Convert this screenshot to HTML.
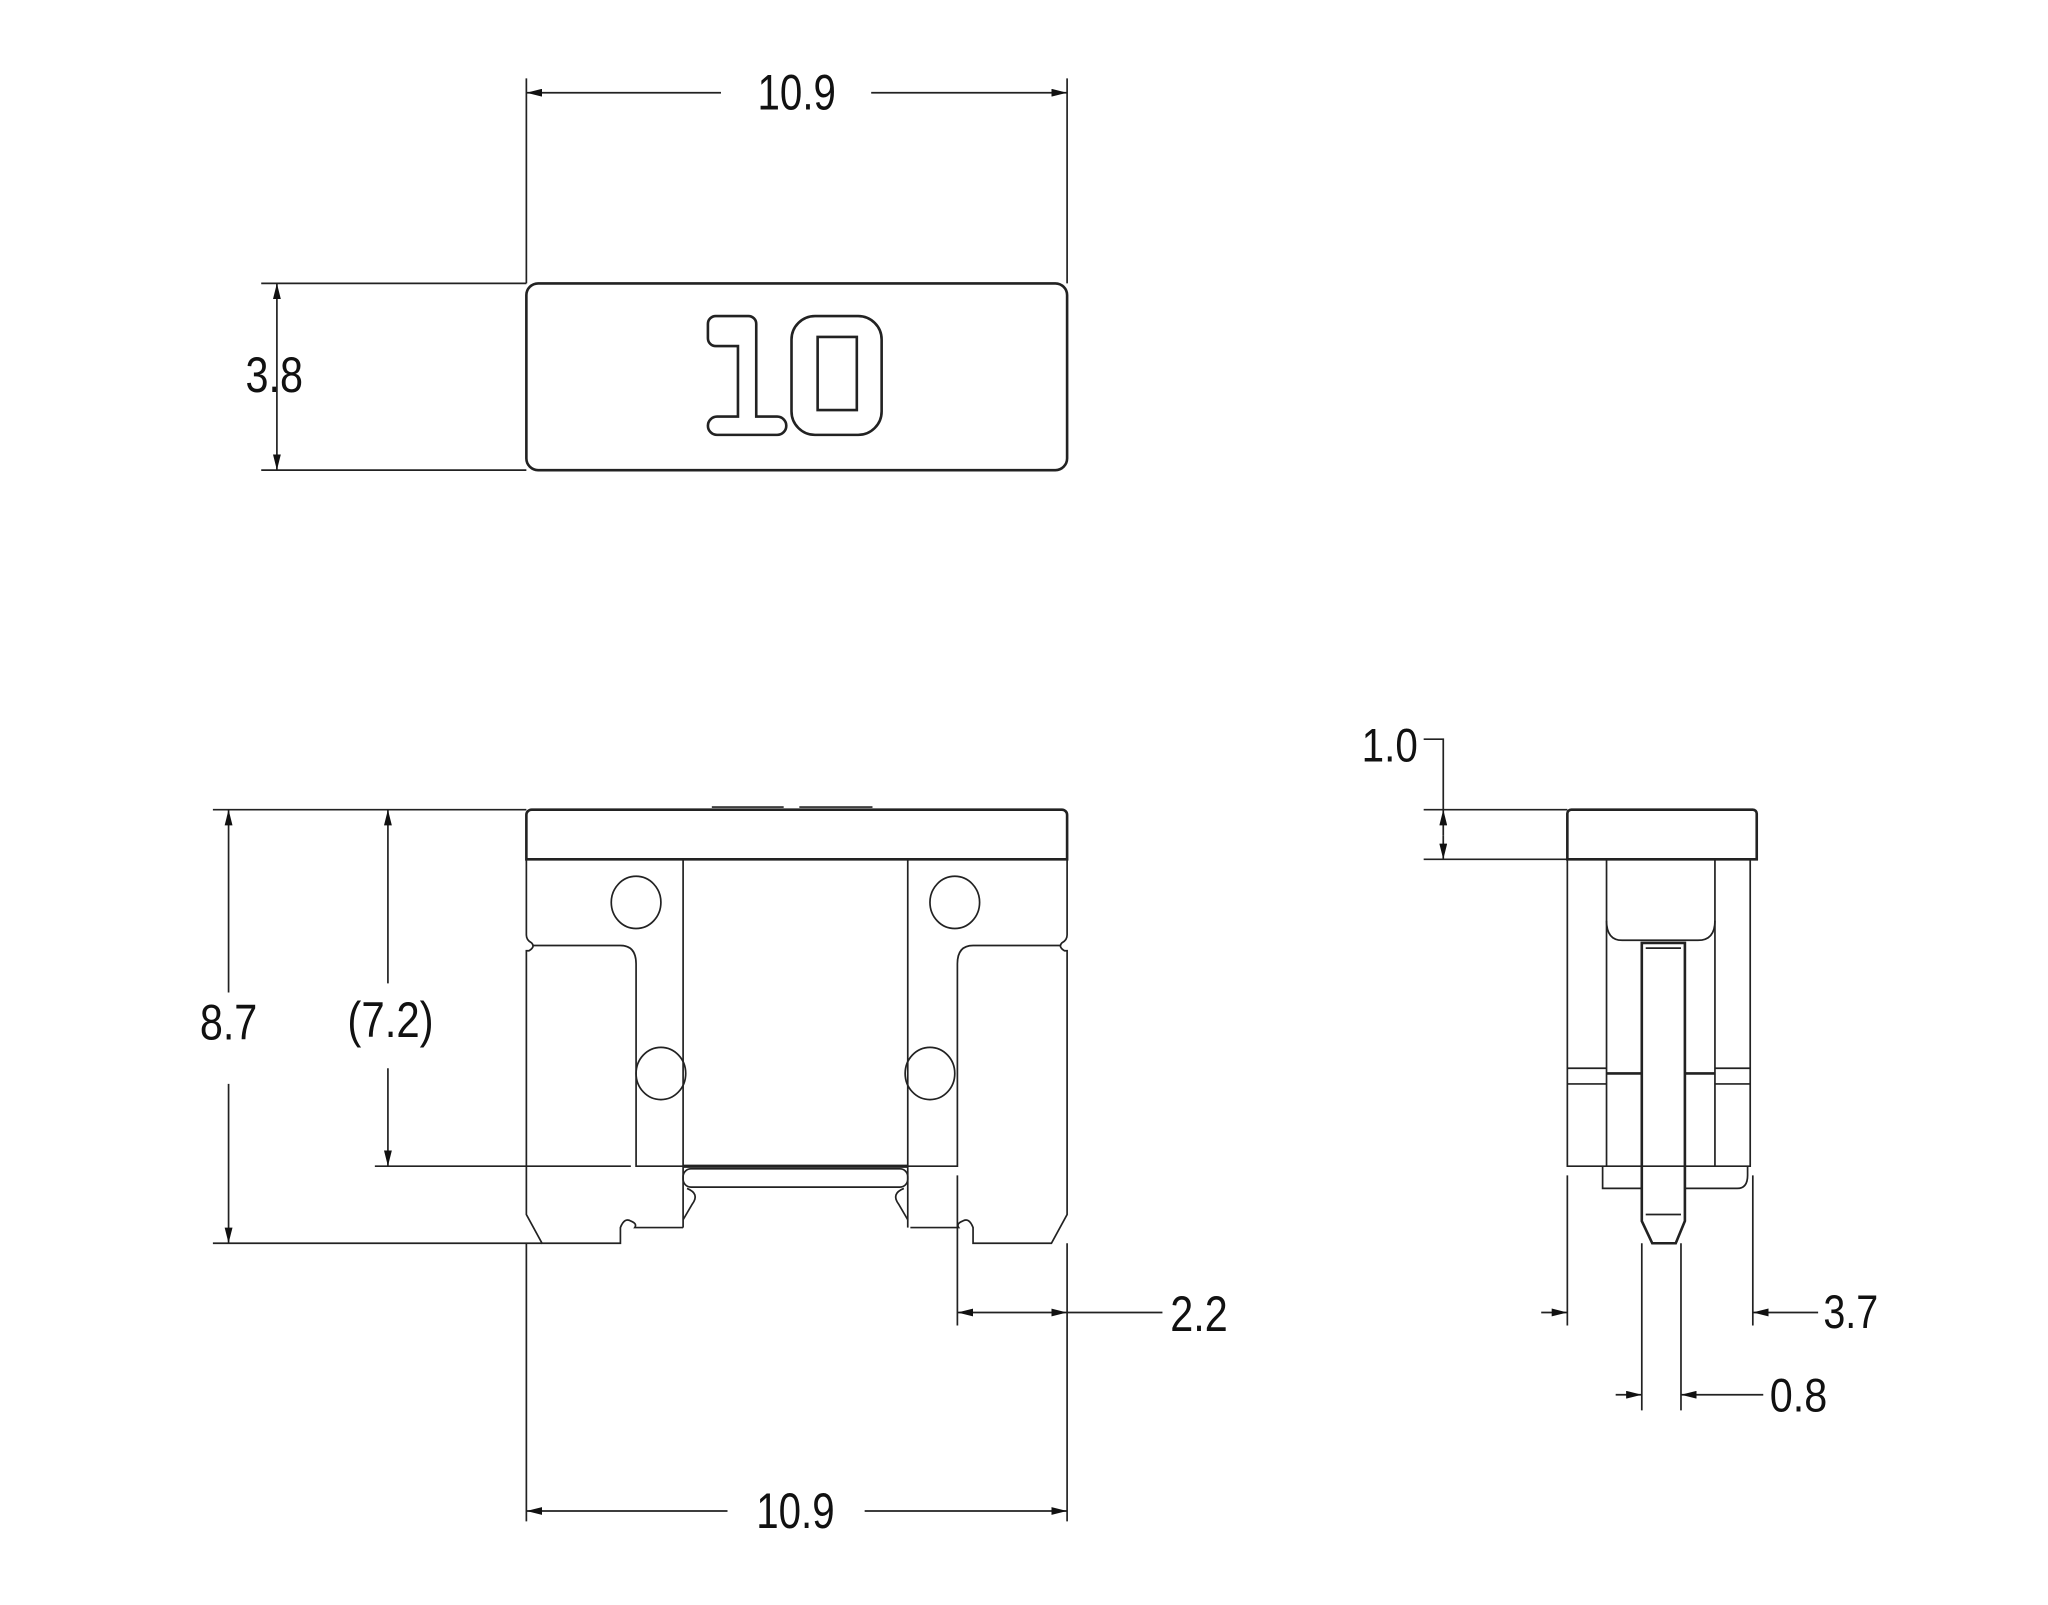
<!DOCTYPE html>
<html><head><meta charset="utf-8"><style>
html,body{margin:0;padding:0;background:#fff;}
svg{display:block;}
.n{font-family:"Liberation Sans Narrow","Liberation Sans",sans-serif;font-size:38px;fill:#111;text-anchor:middle;}
.w{font-family:"Liberation Sans",sans-serif;font-size:36px;fill:#111;text-anchor:middle;}
</style></head><body>
<svg width="2048" height="1605" viewBox="0 0 1568 1229" preserveAspectRatio="none" xmlns="http://www.w3.org/2000/svg">
<defs>
<marker id="a" viewBox="0 0 12 6" refX="12" refY="3" markerWidth="12" markerHeight="6" orient="auto-start-reverse" markerUnits="userSpaceOnUse"><path d="M0,0 L12,3 L0,6 z" fill="#111"/></marker>
</defs>
<g fill="none" stroke="#222" stroke-width="1.3">
<rect x="403" y="217" width="414" height="143" rx="9" stroke-width="2"/>
<line x1="403" y1="60" x2="403" y2="217"/>
<line x1="817" y1="60" x2="817" y2="217"/>
<line x1="403" y1="71" x2="552" y2="71" marker-start="url(#a)"/>
<line x1="667" y1="71" x2="817" y2="71" marker-end="url(#a)"/>
<line x1="200" y1="217" x2="403" y2="217"/>
<line x1="200" y1="360" x2="403" y2="360"/>
<line x1="212" y1="217" x2="212" y2="360" marker-start="url(#a)" marker-end="url(#a)"/>
<path d="M548,242 h25 a6,6 0 0 1 6,6 v71 h16 a7,7 0 0 1 0,14 h-46 a7,7 0 0 1 0,-14 h16 v-54 h-17 a6,6 0 0 1 -6,-6 v-11 a6,6 0 0 1 6,-6 z" stroke-width="2"/>
<path d="M624,242 h33 a18,18 0 0 1 18,18 v55 a18,18 0 0 1 -18,18 h-33 a18,18 0 0 1 -18,-18 v-55 a18,18 0 0 1 18,-18 z M626,258 v56 h30 v-56 z" stroke-width="2"/>

<path d="M407,620 H813 a4,4 0 0 1 4,4 V658 H403 V624 a4,4 0 0 1 4,-4 z" stroke-width="2"/>
<line x1="545" y1="618" x2="600" y2="618"/>
<line x1="612" y1="618" x2="668" y2="618"/>
<path d="M403,658 V716 q0,4 4,6 q3,3 -2,6 H403 V930 L415,952 H475 V940 q3,-8 8,-5 q5,2 3,5 h37"/>
<path d="M408,724 H475 q12,0 12,14 V893 H523"/>
<path d="M523,893 V940"/>
<path d="M817,658 V716 q0,4 -4,6 q-3,3 2,6 H817 V930 L805,952 H745 V940 q-3,-8 -8,-5 q-5,2 -3,5 h-37"/>
<path d="M812,724 H745 q-12,0 -12,14 V893 H695"/>
<path d="M695,893 V940"/>
<line x1="523" y1="658" x2="523" y2="893"/>
<line x1="695" y1="658" x2="695" y2="893"/>
<line x1="523" y1="893" x2="695" y2="893" stroke-width="2.5"/>
<rect x="523" y="895" width="172" height="14" rx="6"/>
<path d="M526,910 q10,4 4,12 l-7,12"/>
<path d="M692,910 q-10,4 -4,12 l7,12"/>
<ellipse cx="487" cy="691" rx="19" ry="20"/>
<ellipse cx="731" cy="691" rx="19" ry="20"/>
<ellipse cx="506" cy="822" rx="19" ry="20"/>
<ellipse cx="712" cy="822" rx="19" ry="20"/>
<line x1="163" y1="620" x2="403" y2="620"/>
<line x1="163" y1="952" x2="415" y2="952"/>
<line x1="175" y1="620" x2="175" y2="760" marker-start="url(#a)"/>
<line x1="175" y1="830" x2="175" y2="952" marker-end="url(#a)"/>
<line x1="287" y1="893" x2="483" y2="893"/>
<line x1="297" y1="620" x2="297" y2="753" marker-start="url(#a)"/>
<line x1="297" y1="818" x2="297" y2="893" marker-end="url(#a)"/>
<line x1="733" y1="900" x2="733" y2="1015"/>
<line x1="817" y1="952" x2="817" y2="1165"/>
<line x1="403" y1="952" x2="403" y2="1165"/>
<line x1="733" y1="1005" x2="817" y2="1005" marker-start="url(#a)" marker-end="url(#a)"/>
<line x1="817" y1="1005" x2="890" y2="1005"/>
<line x1="403" y1="1157" x2="557" y2="1157" marker-start="url(#a)"/>
<line x1="662" y1="1157" x2="817" y2="1157" marker-end="url(#a)"/>

<path d="M1203,620 H1342 a3,3 0 0 1 3,3 V658 H1200 V623 a3,3 0 0 1 3,-3 z" stroke-width="2"/>
<path d="M1200,658 V893 H1340 V658"/>
<path d="M1230,658 V705 q0,15 12,15 H1300 q13,0 13,-15 V658"/>
<line x1="1230" y1="705" x2="1230" y2="893"/>
<line x1="1313" y1="705" x2="1313" y2="893"/>
<line x1="1200" y1="818" x2="1230" y2="818"/>
<line x1="1200" y1="830" x2="1230" y2="830"/>
<line x1="1313" y1="818" x2="1340" y2="818"/>
<line x1="1313" y1="830" x2="1340" y2="830"/>
<line x1="1230" y1="822" x2="1257" y2="822" stroke-width="2"/>
<line x1="1290" y1="822" x2="1313" y2="822" stroke-width="2"/>
<path d="M1257,722 V935 L1265,952 H1283 L1290,935 V722 z" stroke-width="2"/>
<line x1="1260" y1="726" x2="1287" y2="726"/>
<line x1="1260" y1="930" x2="1287" y2="930"/>
<path d="M1227,893 V910 H1257 M1290,910 H1330 q8,0 8,-10 V893"/>
<path d="M1090,566 H1105 V620"/>
<line x1="1090" y1="620" x2="1200" y2="620"/>
<line x1="1090" y1="658" x2="1200" y2="658"/>
<line x1="1105" y1="620" x2="1105" y2="640" marker-start="url(#a)"/>
<line x1="1105" y1="640" x2="1105" y2="658" marker-end="url(#a)"/>
<line x1="1200" y1="900" x2="1200" y2="1015"/>
<line x1="1342" y1="900" x2="1342" y2="1015"/>
<line x1="1180" y1="1005" x2="1200" y2="1005" marker-end="url(#a)"/>
<line x1="1392" y1="1005" x2="1342" y2="1005" marker-end="url(#a)"/>
<line x1="1257" y1="952" x2="1257" y2="1080"/>
<line x1="1287" y1="952" x2="1287" y2="1080"/>
<line x1="1237" y1="1068" x2="1257" y2="1068" marker-end="url(#a)"/>
<line x1="1350" y1="1068" x2="1287" y2="1068" marker-end="url(#a)"/>
</g>
<text class="n" x="610" y="84" textLength="60" lengthAdjust="spacingAndGlyphs">10.9</text>
<text class="n" x="210" y="300" textLength="44" lengthAdjust="spacingAndGlyphs">3.8</text>
<text class="n" x="175" y="796" textLength="44" lengthAdjust="spacingAndGlyphs">8.7</text>
<text class="n" x="299" y="794" textLength="66" lengthAdjust="spacingAndGlyphs">(7.2)</text>
<text class="n" x="918" y="1019" textLength="44" lengthAdjust="spacingAndGlyphs">2.2</text>
<text class="n" x="609" y="1170" textLength="60" lengthAdjust="spacingAndGlyphs">10.9</text>
<text class="w" x="1064" y="583" textLength="43" lengthAdjust="spacingAndGlyphs">1.0</text>
<text class="w" x="1417" y="1017" textLength="42" lengthAdjust="spacingAndGlyphs">3.7</text>
<text class="w" x="1377" y="1081" textLength="44" lengthAdjust="spacingAndGlyphs">0.8</text>
</svg>
</body></html>
